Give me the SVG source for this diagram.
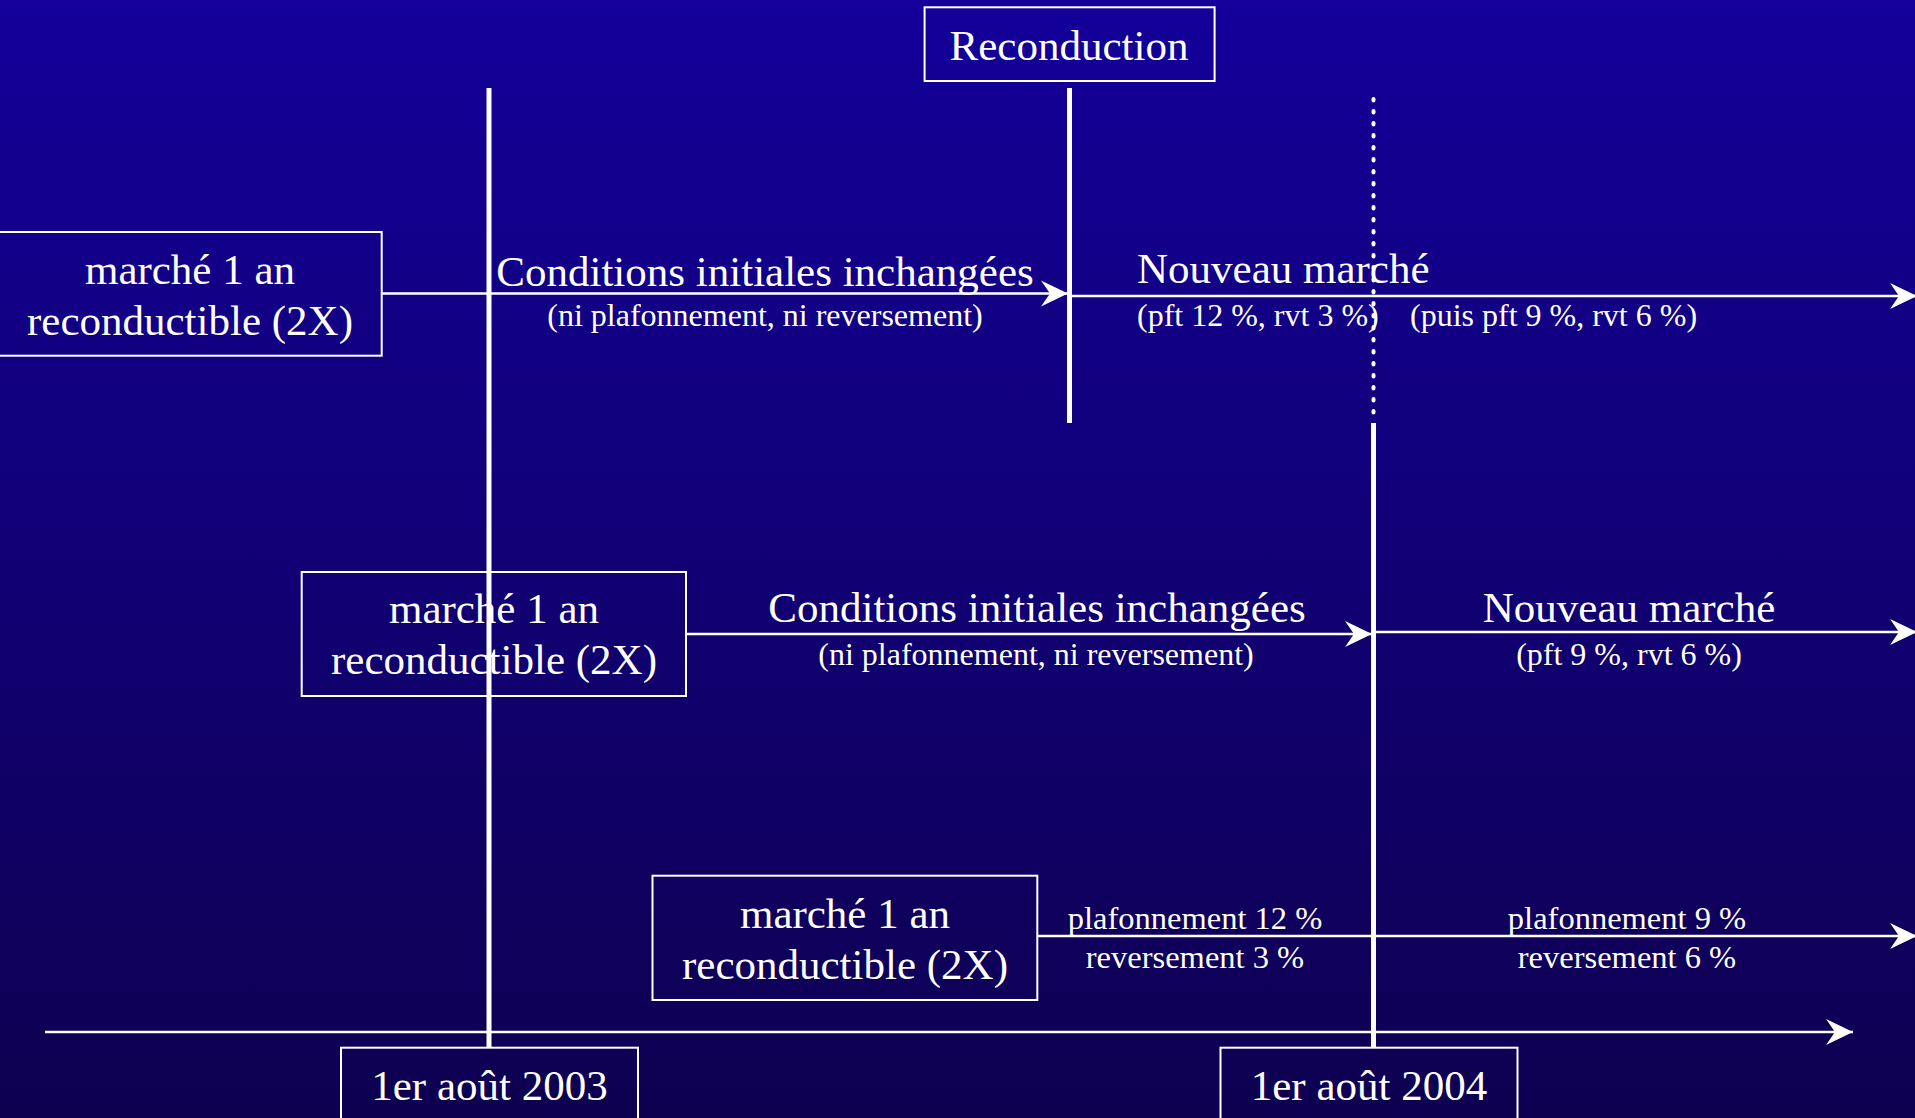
<svg xmlns="http://www.w3.org/2000/svg" width="1915" height="1118" viewBox="0 0 1915 1118">
  <defs>
    <linearGradient id="bg" x1="0" y1="0" x2="0" y2="1">
      <stop offset="0" stop-color="#14009A"/>
      <stop offset="1" stop-color="#0E0050"/>
    </linearGradient>
    <marker id="arr" markerUnits="userSpaceOnUse" markerWidth="30" markerHeight="30" viewBox="-28 -15 30 30" refX="0" refY="0" orient="auto" overflow="visible">
      <path d="M0,0 L-27,-13 L-18,0 L-27,13 Z" fill="#ffffff"/>
    </marker>
    <style>
      .box { fill: none; stroke: #ffffff; stroke-width: 2; }
      .big { font-family: "Liberation Serif", "Times New Roman", serif; font-size: 43px; fill: #ffffff; text-anchor: middle; }
      .small { font-family: "Liberation Serif", "Times New Roman", serif; font-size: 32px; fill: #ffffff; text-anchor: middle; }
      .mid { font-family: "Liberation Serif", "Times New Roman", serif; font-size: 32.5px; fill: #ffffff; text-anchor: middle; }
      .start { text-anchor: start; }
      .vline { stroke: #ffffff; stroke-width: 5; fill: none; }
      .dots { stroke: #ffffff; stroke-width: 4; fill: none; stroke-linecap: round; stroke-dasharray: 1.5 10.5; }
      .arrow { stroke: #ffffff; stroke-width: 2.5; fill: none; marker-end: url(#arr); }
    </style>
  </defs>

  <rect x="0" y="0" width="1915" height="1118" fill="url(#bg)"/>

  <g id="connectors">
    <line class="vline" x1="489" y1="88" x2="489" y2="1048"/>
    <line class="vline" x1="1069.5" y1="88" x2="1069.5" y2="423"/>
    <line class="dots" x1="1373.5" y1="99" x2="1373.5" y2="416"/>
    <line class="vline" x1="1373.5" y1="423" x2="1373.5" y2="1048"/>
    <line class="arrow" x1="381.7" y1="293.5" x2="1068" y2="293.5"/>
    <line class="arrow" x1="1069" y1="296" x2="1917" y2="296"/>
    <line class="arrow" x1="686" y1="634" x2="1372" y2="634"/>
    <line class="arrow" x1="1374" y1="632" x2="1917" y2="632"/>
    <line class="arrow" x1="1037.3" y1="936" x2="1917" y2="936"/>
    <line class="arrow" x1="45" y1="1032" x2="1853" y2="1032"/>
  </g>

  <g id="reconduction">
    <rect class="box" x="924.6" y="7.3" width="290" height="73.7"/>
    <text class="big" x="1069" y="60">Reconduction</text>
  </g>

  <g id="marche1">
    <rect class="box" x="-2" y="232" width="383.7" height="123.7"/>
    <text class="big" x="190" y="284">marché 1 an</text>
    <text class="big" x="190" y="335">reconductible (2X)</text>
  </g>

  <g id="marche2">
    <rect class="box" x="301.7" y="572" width="384.3" height="124"/>
    <text class="big" x="494" y="623">marché 1 an</text>
    <text class="big" x="494" y="674">reconductible (2X)</text>
  </g>

  <g id="marche3">
    <rect class="box" x="652.5" y="875.7" width="384.8" height="124.3"/>
    <text class="big" x="845" y="928">marché 1 an</text>
    <text class="big" x="845" y="978.5">reconductible (2X)</text>
  </g>

  <g id="date2003">
    <rect class="box" x="341" y="1047.7" width="297" height="80"/>
    <text class="big" x="489.5" y="1100">1er août 2003</text>
  </g>

  <g id="date2004">
    <rect class="box" x="1220.5" y="1047.7" width="297" height="80"/>
    <text class="big" x="1369" y="1100">1er août 2004</text>
  </g>

  <g id="labels-row1">
    <text class="big" x="765" y="285.7">Conditions initiales inchangées</text>
    <text class="small" x="765" y="326">(ni plafonnement, ni reversement)</text>
    <text class="big start" x="1137" y="282.7">Nouveau marché</text>
    <text class="small start" x="1137" y="326">(pft 12 %, rvt 3 %)</text>
    <text class="small start" x="1410" y="326">(puis pft 9 %, rvt 6 %)</text>
  </g>

  <g id="labels-row2">
    <text class="big" x="1037" y="621.7">Conditions initiales inchangées</text>
    <text class="small" x="1036" y="665">(ni plafonnement, ni reversement)</text>
    <text class="big" x="1629" y="621.7">Nouveau marché</text>
    <text class="small" x="1629" y="665">(pft 9 %, rvt 6 %)</text>
  </g>

  <g id="labels-row3">
    <text class="mid" x="1195" y="928.5">plafonnement 12 %</text>
    <text class="mid" x="1195" y="967.5">reversement 3 %</text>
    <text class="mid" x="1627" y="928.5">plafonnement 9 %</text>
    <text class="mid" x="1627" y="967.5">reversement 6 %</text>
  </g>
</svg>
